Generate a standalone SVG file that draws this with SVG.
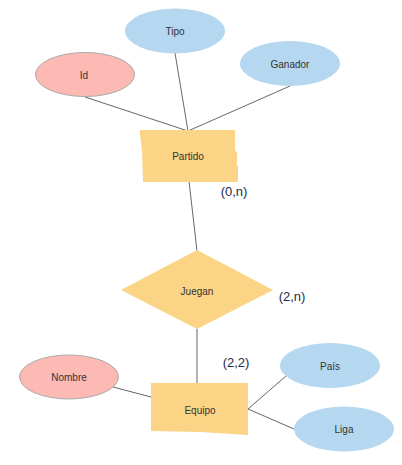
<svg xmlns="http://www.w3.org/2000/svg" width="402" height="465" viewBox="0 0 402 465">
<style>
.ent{fill:#fbd486;stroke:none}
.key{fill:#fdb9b3;stroke:#aaaaaa;stroke-width:1}
.attr{fill:#b5d7ef;stroke:none}
.t{font-family:"Liberation Sans",Arial,sans-serif;font-size:10px;fill:#333333;text-anchor:middle;dominant-baseline:central}
.card{font-family:"Liberation Sans",Arial,sans-serif;font-size:13px;fill:#242a4a;text-anchor:middle;dominant-baseline:central}
.e{stroke:#666666;stroke-width:1;fill:none}
</style>
<rect width="402" height="465" fill="#ffffff"/>
<g id="connectors">
<line class="e" x1="85" y1="97" x2="188" y2="131"/>
<line class="e" x1="175" y1="53" x2="188" y2="131"/>
<line class="e" x1="290" y1="86" x2="188" y2="131"/>
<line class="e" x1="189" y1="181" x2="197" y2="251"/>
<line class="e" x1="197" y1="329" x2="197" y2="383"/>
<line class="e" x1="113" y1="387" x2="151" y2="397"/>
<line class="e" x1="248" y1="409" x2="286" y2="376"/>
<line class="e" x1="248" y1="409" x2="294" y2="429"/>
</g>
<g id="tipo"><ellipse class="attr" cx="175" cy="31" rx="50" ry="22.5"/><text class="t" x="175" y="31">Tipo</text></g>
<g id="id"><ellipse class="key" cx="85" cy="74.5" rx="49.5" ry="22"/><text class="t" x="84" y="75">Id</text></g>
<g id="ganador"><ellipse class="attr" cx="290" cy="63.5" rx="50" ry="22.5"/><text class="t" x="290" y="64">Ganador</text></g>
<g id="partido"><polygon class="ent" points="140,130 235,130 235,150 237,153 237,165 238,167 238,182 143,182 142,150 140,135"/><text class="t" x="188" y="156">Partido</text></g>
<g id="juegan"><polygon class="ent" points="197,250 273,290 197,329 121,290"/><text class="t" x="197" y="291">Juegan</text></g>
<g id="equipo"><polygon class="ent" points="151,383 248,383 248,435 200,432 151,431"/><text class="t" x="200" y="410">Equipo</text></g>
<g id="nombre"><ellipse class="key" cx="69" cy="377" rx="49.5" ry="22"/><text class="t" x="69" y="377">Nombre</text></g>
<g id="pais"><ellipse class="attr" cx="330" cy="365.5" rx="50" ry="22.5"/><text class="t" x="330" y="366">País</text></g>
<g id="liga"><ellipse class="attr" cx="344" cy="429" rx="50" ry="22.5"/><text class="t" x="344" y="429">Liga</text></g>
<g id="labels">
<text class="card" x="234" y="191">(0,n)</text>
<text class="card" x="292" y="296">(2,n)</text>
<text class="card" x="236" y="362">(2,2)</text>
</g>
</svg>
